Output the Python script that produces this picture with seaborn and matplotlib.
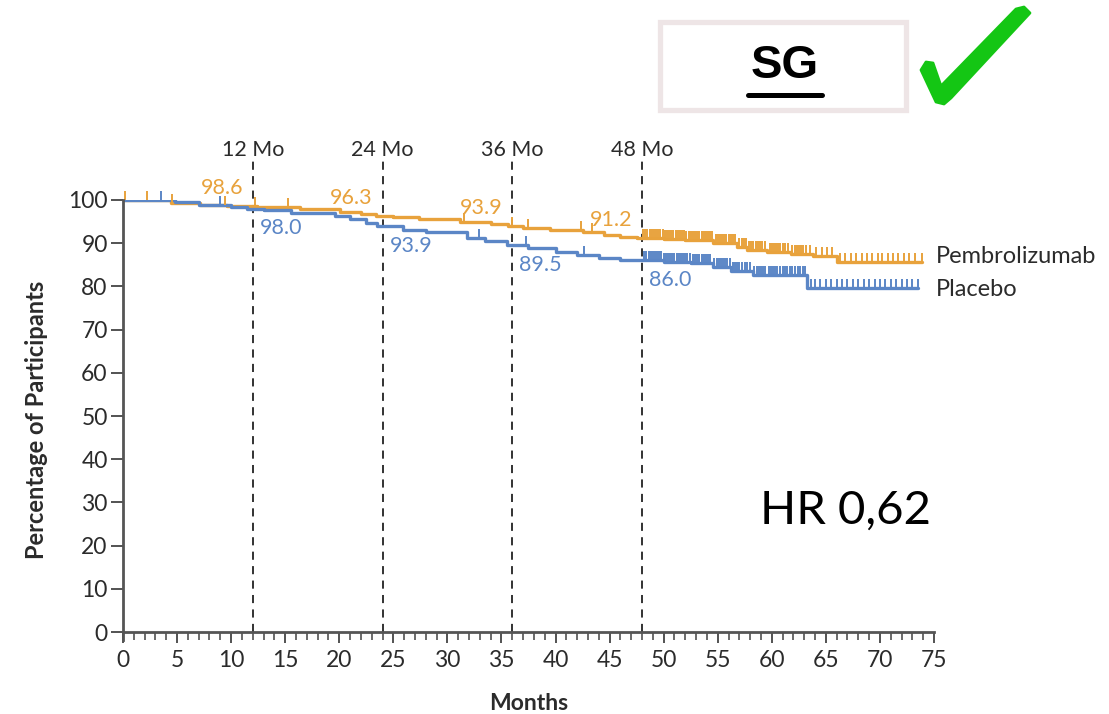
import numpy as np
import pandas as pd
import matplotlib
matplotlib.use("Agg")
import matplotlib.pyplot as plt
from matplotlib.patches import Rectangle, Polygon
from matplotlib.lines import Line2D
import seaborn as sns

# Kaplan-Meier step data (months, percentage event-free)
pembro_month = [0, 4.4, 7.1, 9.6, 12.4, 16.4, 20.1, 22.0, 23.4, 25.0, 27.4, 31.2, 34.0,
                35.6, 37.0, 39.5, 42.5, 44.5, 46.0, 47.5, 50.0, 52.0, 54.6, 56.8, 57.7,
                59.6, 61.8, 63.8, 66.0, 73.9]
pembro_pct = [100, 99.4, 98.9, 98.6, 98.3, 97.8, 97.3, 96.8, 96.3, 96.0, 95.5, 94.8, 94.4,
              93.9, 93.5, 93.0, 92.5, 92.0, 91.5, 91.2, 91.0, 90.7, 90.1, 89.1, 88.5,
              88.0, 87.5, 87.0, 85.6, 85.6]

placebo_month = [0, 4.8, 7.0, 10.0, 11.5, 13.0, 15.5, 19.6, 21.0, 22.5, 23.5, 25.9, 28.0,
                 31.8, 33.5, 35.5, 37.5, 40.0, 42.0, 44.0, 46.0, 50.0, 52.5, 54.6, 56.2,
                 58.3, 63.3, 73.5]
placebo_pct = [100, 99.5, 98.9, 98.4, 98.0, 97.7, 96.9, 96.3, 95.5, 94.6, 93.9, 93.1, 92.6,
               91.2, 90.4, 89.5, 88.9, 88.0, 87.2, 86.6, 86.0, 85.7, 85.4, 84.4, 83.6,
               82.6, 79.6, 79.6]

# Censoring times
pembro_censor = [0.2, 2.2, 4.5, 9.4, 12.2, 15.3, 31.5, 36.0, 37.5, 42.4, 43.4,
                 48.1, 48.3, 48.5, 48.7, 48.9, 49.1, 49.3, 49.5, 49.7, 49.9, 50.1, 50.3,
                 50.5, 50.7, 50.9, 51.1, 51.3, 51.5, 51.7, 51.9, 52.1, 52.3, 52.5, 52.7,
                 52.9, 53.1, 53.3, 53.5, 53.7, 53.9, 54.1, 54.3, 54.5, 54.8, 55.0, 55.2,
                 55.4, 55.6, 55.8, 56.0, 56.2, 56.4, 56.6, 57.0, 57.2, 57.4, 57.6, 57.9,
                 58.1, 58.3, 58.5, 58.7, 58.9, 59.1, 59.4, 59.8, 60.0, 60.2, 60.4, 60.6,
                 60.8, 61.0, 61.2, 61.5, 61.9, 62.1, 62.3, 62.5, 62.7, 62.9, 63.2, 63.5,
                 64.1, 64.6, 65.1, 65.6, 66.3, 66.8, 67.3, 67.8, 68.3, 68.8, 69.3, 69.8,
                 70.2, 70.7, 71.2, 71.7, 72.2, 72.7, 73.2, 73.9]
placebo_censor = [3.5, 9.0, 32.9, 37.3, 42.6,
                  48.2, 48.4, 48.6, 48.8, 49.0, 49.2, 49.4, 49.6, 49.8, 50.0, 50.2, 50.4,
                  50.6, 50.8, 51.0, 51.2, 51.4, 51.6, 51.8, 52.0, 52.2, 52.4, 52.7, 52.9,
                  53.1, 53.3, 53.5, 53.7, 53.9, 54.1, 54.3, 54.7, 54.9, 55.1, 55.3, 55.5,
                  55.7, 55.9, 56.1, 56.4, 56.6, 56.8, 57.0, 57.2, 57.5, 57.7, 58.0, 58.4,
                  58.6, 58.8, 59.0, 59.2, 59.4, 59.7, 59.9, 60.1, 60.3, 60.5, 60.8, 61.0,
                  61.2, 61.4, 61.7, 61.9, 62.1, 62.4, 62.6, 62.9, 63.1, 63.6, 64.0, 64.5,
                  65.0, 65.5, 66.0, 66.5, 67.0, 67.5, 68.0, 68.5, 69.0, 69.5, 70.0, 70.5,
                  71.0, 71.5, 72.0, 72.5, 73.0, 73.5]

landmarks = [12, 24, 36, 48]
arm_names = ["Pembrolizumab", "Placebo"]
x_ticks = list(range(0, 76, 5))
y_ticks = list(range(0, 101, 10))

ORANGE = "#E8A23C"
BLUE = "#5B86C6"
INK = "#2B2B2B"

sns.set_theme(style="ticks")
plt.rcParams["font.family"] = ["Lato", "DejaVu Sans"]
plt.rcParams["axes.edgecolor"] = "#555555"


def km_value(months, pct, t):
    idx = np.searchsorted(months, t, side="right") - 1
    return pct[idx]


df = pd.concat([
    pd.DataFrame({"month": pembro_month, "pct": pembro_pct, "arm": arm_names[0]}),
    pd.DataFrame({"month": placebo_month, "pct": placebo_pct, "arm": arm_names[1]}),
])

fig = plt.figure(figsize=(11.09, 7.14), dpi=100)
ax = fig.add_axes([0.1109, 0.1039, 0.7313, 0.6160])

sns.lineplot(data=df, x="month", y="pct", hue="arm", palette=[ORANGE, BLUE],
             drawstyle="steps-post", estimator=None, sort=False, linewidth=2.4,
             legend=False, ax=ax)

# censor marks
for months, pct, times, col in [(pembro_month, pembro_pct, pembro_censor, ORANGE),
                                (placebo_month, placebo_pct, placebo_censor, BLUE)]:
    vals = [km_value(months, pct, t) for t in times]
    ax.plot(times, vals, linestyle="none", marker=2, markersize=6.5,
            markeredgewidth=1.4, color=col, clip_on=False)

# landmark lines and labels
for m in landmarks:
    ax.plot([m, m], [0, 109.3], color="#222222", linestyle=(0, (4.5, 3.5)),
            linewidth=1.3, clip_on=False, zorder=1)
    ax.text(m, 111.5, f"{m} Mo", ha="center", va="center", fontsize=15.5, color=INK)
    pv = km_value(pembro_month, pembro_pct, m)
    bv = km_value(placebo_month, placebo_pct, m)
    ax.annotate(f"{pv:.1f}", (m, pv), xytext=(-7, 13), textcoords="offset points",
                ha="right", va="center", fontsize=15.5, color=ORANGE)
    ax.annotate(f"{bv:.1f}", (m, bv), xytext=(5, -14), textcoords="offset points",
                ha="left", va="center", fontsize=15.5, color=BLUE)

# arm labels at line ends
ax.annotate(arm_names[0], (pembro_month[-1], pembro_pct[-1]), xytext=(10, 4),
            textcoords="offset points", ha="left", va="center", fontsize=17,
            color=INK, annotation_clip=False)
ax.annotate(arm_names[1], (pembro_month[-1], placebo_pct[-1]), xytext=(10, -1),
            textcoords="offset points", ha="left", va="center", fontsize=17,
            color=INK, annotation_clip=False)

# spines first: repositioning a spine resets its axis ticks
for s in ["top", "right"]:
    ax.spines[s].set_visible(False)
ax.spines["bottom"].set_position(("data", 0))
ax.spines["left"].set_linewidth(2)
ax.spines["bottom"].set_linewidth(2)

ax.set_xlim(0, 75)
ax.set_ylim(-1.8, 100)
ax.set_xticks(x_ticks)
ax.set_xticks(range(0, 76), minor=True)
ax.set_yticks(y_ticks)
ax.set_xticklabels([str(v) for v in x_ticks], fontsize=16.5, color=INK)
ax.set_yticklabels([str(v) for v in y_ticks], fontsize=16.5, color=INK)
ax.tick_params(axis="x", which="major", length=8, width=1.3, direction="out",
               pad=5, colors="#444444", labelcolor=INK)
ax.tick_params(axis="x", which="minor", length=6, width=1.1, direction="out",
               colors="#444444")
ax.tick_params(axis="y", which="major", length=9, width=1.3, direction="out",
               pad=2, colors="#444444", labelcolor=INK)
ax.set_xlabel("Months", fontsize=16.5, fontweight="bold", color=INK)
ax.set_ylabel("Percentage of Participants", fontsize=17, fontweight="bold",
              color=INK)
ax.xaxis.set_label_coords(0.5, -0.12)
ax.yaxis.set_label_coords(-0.092, 0.5)

# hazard ratio
fig.text(0.762, 0.285, "HR 0,62", fontsize=34, color="black", ha="center",
         va="center", family=["Lato", "DejaVu Sans"])

# subgroup tag with check mark
W, H = 1109.0, 714.0
fig.patches.append(Rectangle((660 / W, 1 - 110 / H), 246 / W, 88 / H,
                             transform=fig.transFigure, fill=True, facecolor="white",
                             edgecolor="#EEE5E6", linewidth=3.8))
fig.text(785 / W, 1 - 66 / H, "SG", fontsize=34, fontweight="bold",
         ha="center", va="center", color="black", family=["Liberation Sans"])
fig.lines.append(Line2D([748 / W, 822 / W], [1 - 95 / H, 1 - 95 / H],
                        transform=fig.transFigure, color="black", linewidth=3.6))
check_px = [(921, 70), (926, 62), (933, 63), (941, 86), (1016, 9), (1024, 7),
            (1030, 13), (951, 98), (944, 104), (936, 102)]
fig.patches.append(Polygon([(x / W, 1 - y / H) for x, y in check_px], closed=True,
                           transform=fig.transFigure, facecolor="#14C614",
                           edgecolor="#14C614", linewidth=2, joinstyle="round"))

fig.savefig("out.png", dpi=100, facecolor="white")
